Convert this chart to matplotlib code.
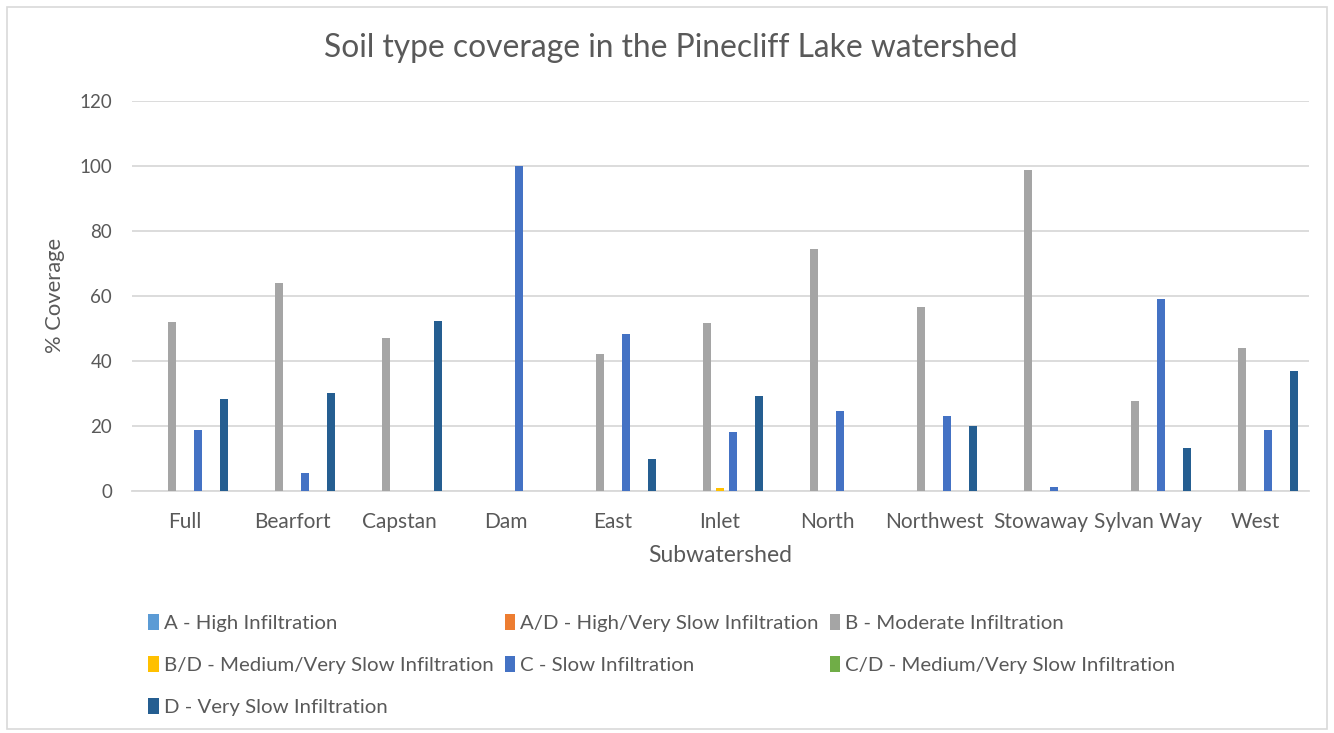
import matplotlib.pyplot as plt
import numpy as np
from matplotlib.patches import Rectangle

plt.rcParams['font.family'] = ['Lato', 'DejaVu Sans']

subwatersheds = ["Full", "Bearfort", "Capstan", "Dam", "East", "Inlet",
                 "North", "Northwest", "Stowaway", "Sylvan Way", "West"]

series_names = [
    "A - High Infiltration",
    "A/D - High/Very Slow Infiltration",
    "B - Moderate Infiltration",
    "B/D - Medium/Very Slow Infiltration",
    "C - Slow Infiltration",
    "C/D - Medium/Very Slow Infiltration",
    "D - Very Slow Infiltration",
]

soil_a = [0, 0, 0, 0, 0, 0, 0, 0, 0, 0, 0]
soil_ad = [0, 0, 0, 0, 0, 0, 0, 0, 0, 0, 0]
soil_b = [52.1, 63.9, 47.1, 0, 42.2, 51.8, 74.6, 56.5, 98.8, 27.7, 44.0]
soil_bd = [0, 0, 0, 0, 0, 0.8, 0, 0, 0, 0, 0]
soil_c = [18.8, 5.6, 0, 100.0, 48.2, 18.2, 24.7, 23.2, 1.1, 59.2, 18.9]
soil_cd = [0, 0, 0, 0, 0, 0, 0, 0, 0, 0, 0]
soil_d = [28.2, 30.2, 52.3, 0, 9.7, 29.2, 0, 19.9, 0, 13.3, 37.0]

series_values = [soil_a, soil_ad, soil_b, soil_bd, soil_c, soil_cd, soil_d]
series_colors = ["#5B9BD5", "#ED7D31", "#A5A5A5", "#FFC000",
                 "#4472C4", "#70AD47", "#255E91"]

text_color = "#595959"
grid_color = "#D9D9D9"

W, H = 1334, 733
fig = plt.figure(figsize=(W / 100, H / 100), dpi=100)
fig.patches.append(Rectangle((7 / W, 4 / H), 1320 / W, 722 / H,
                             transform=fig.transFigure, fill=False,
                             edgecolor="#D9D9D9", linewidth=1.2))

left, right, top, bottom = 131.5, 1308.5, 101, 491
ax = fig.add_axes([left / W, 1 - bottom / H, (right - left) / W, (bottom - top) / H])

x = np.arange(len(subwatersheds))
slot = 0.1215
bar_w = 0.084
for i, (name, vals, col) in enumerate(zip(series_names, series_values, series_colors)):
    ax.bar(x + (i - 3) * slot, vals, width=bar_w, color=col, label=name,
           linewidth=0, zorder=3)

ax.set_xlim(-0.5, len(subwatersheds) - 0.5)
ax.set_ylim(0, 120)
ax.set_yticks(np.arange(0, 121, 20))
ax.yaxis.grid(True, color=grid_color, linewidth=1.3, zorder=0)
ax.set_axisbelow(True)
for s in ["top", "right", "left"]:
    ax.spines[s].set_visible(False)
ax.spines["bottom"].set_color(grid_color)
ax.spines["bottom"].set_linewidth(1.3)
ax.tick_params(axis="both", length=0, labelcolor=text_color)
ax.tick_params(axis="y", pad=14, labelsize=13.5)
ax.tick_params(axis="x", pad=15, labelsize=15)
ax.set_xticks(x)
ax.set_xticklabels(subwatersheds)

fig.text(671 / W, 1 - 48 / H, "Soil type coverage in the Pinecliff Lake watershed",
         ha="center", va="center", fontsize=22.9, color=text_color)
fig.text(55 / W, 1 - 295 / H, "% Coverage", rotation=90, ha="center", va="center",
         fontsize=15.8, color=text_color)
fig.text(720 / W, 1 - 556 / H, "Subwatershed", ha="center", va="center",
         fontsize=16.5, color=text_color)

handles, labels = ax.get_legend_handles_labels()
# column-major order so the legend reads across rows in three columns
order = [0, 3, 6, 1, 4, 2, 5]
leg = fig.legend([handles[k] for k in order], [labels[k] for k in order],
                 ncol=3, loc="upper left", bbox_to_anchor=(130 / W, 1 - 596 / H),
                 frameon=False, fontsize=14.7, handlelength=0.5, handleheight=0.8,
                 handletextpad=0.25, columnspacing=0.55, labelspacing=1.17)
for t in leg.get_texts():
    t.set_color(text_color)

fig.savefig("out.png", dpi=100)
